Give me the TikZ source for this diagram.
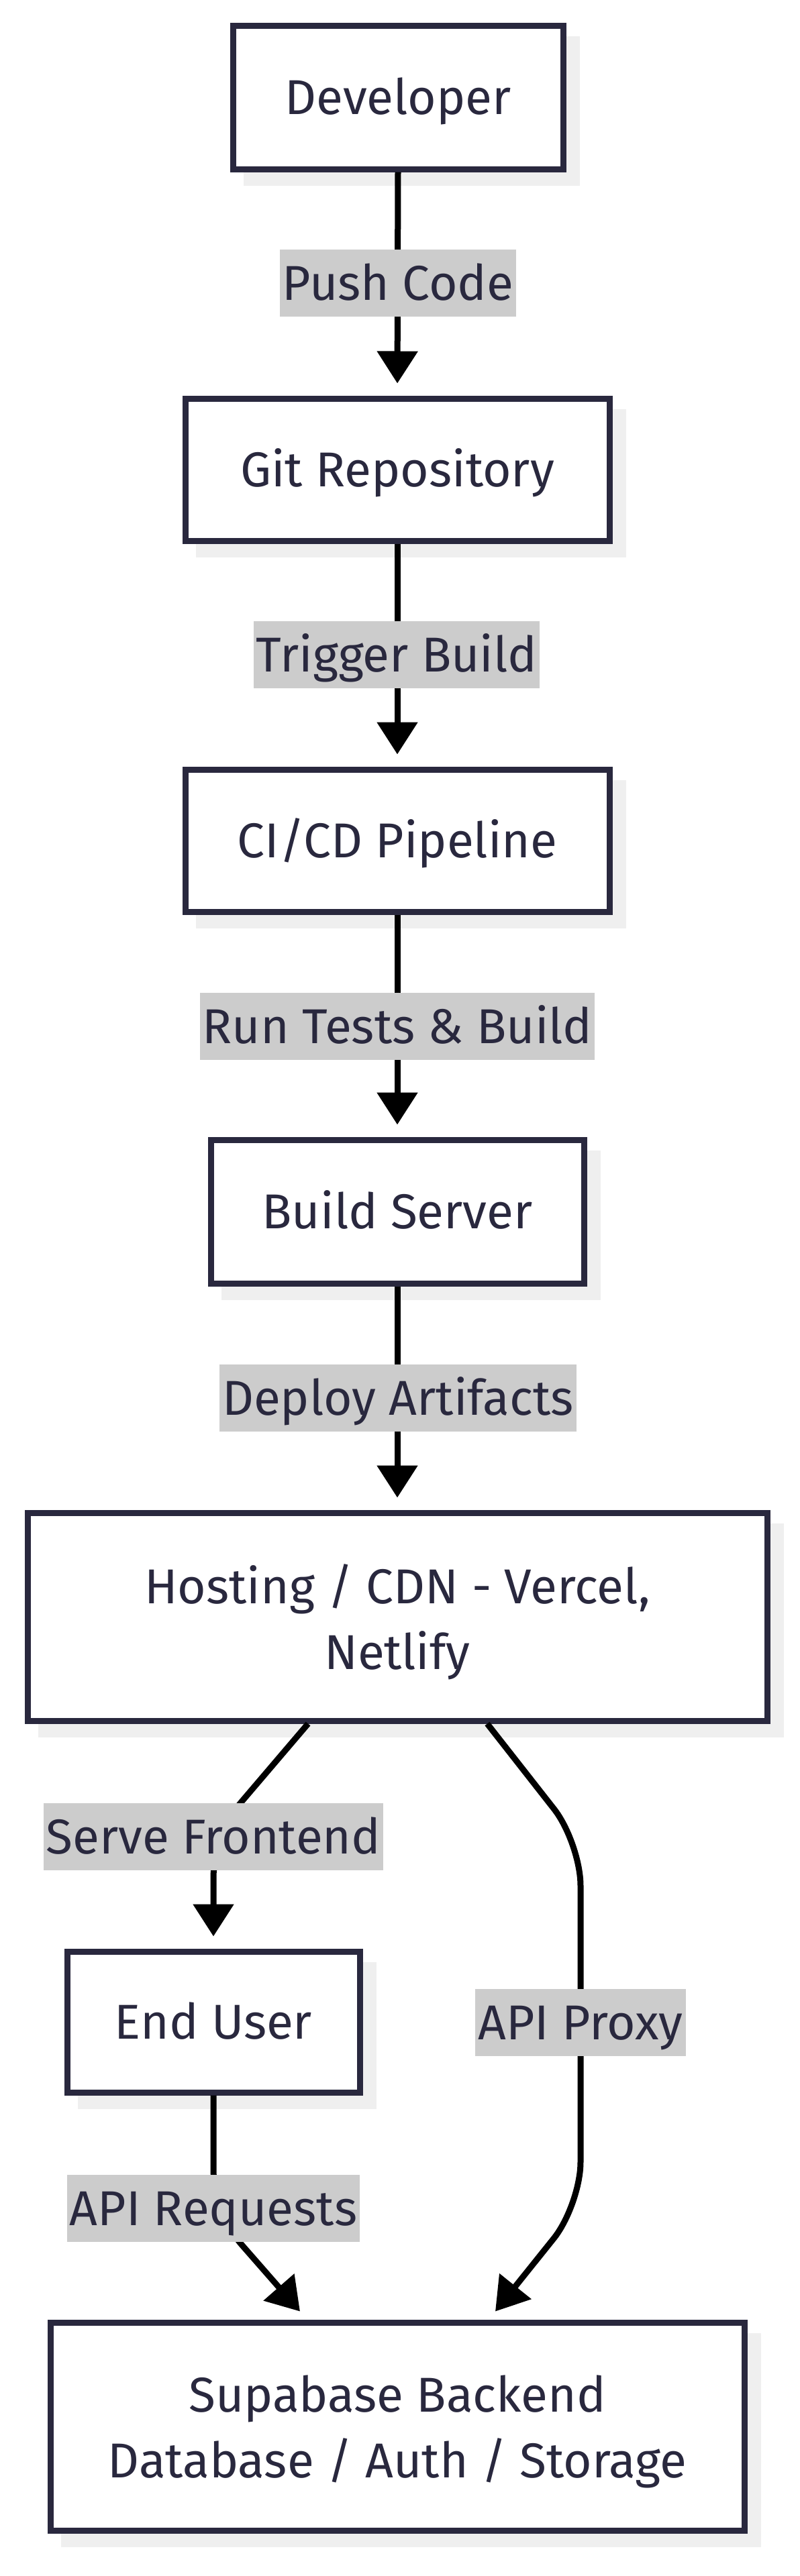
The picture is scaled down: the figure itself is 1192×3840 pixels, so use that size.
\documentclass[tikz,border=0pt]{standalone}
\usepackage{fontspec}
\setmainfont{Fira Sans}
\usetikzlibrary{arrows.meta,calc,backgrounds}
\definecolor{ink}{HTML}{29283E}
\definecolor{shadowc}{HTML}{EFEFEF}
\definecolor{lblbg}{HTML}{CCCCCC}
\begin{document}
\begin{tikzpicture}[x=0.5pt,y=-0.5pt,
  txt/.style={text=ink, font=\fontsize{36.5}{49}\selectfont, text depth=0pt},
  oneline/.style={text height=25.2pt},
  box/.style={txt, draw=ink, line width=4.5pt, fill=white, align=center, inner sep=0pt},
  lbl/.style={txt, oneline, fill=lblbg, inner xsep=2pt, inner ysep=0pt, minimum height=50pt},
  conn/.style={draw=black, line width=4.5pt, -{Triangle[width=29.5pt,length=24pt]}},
  corner/.style={rounded corners=32pt}
]
\useasboundingbox (0,0) rectangle (1192,3840);

% nodes
\node[box, oneline, minimum width=246pt, minimum height=107pt] (dev) at (593,145) {Developer};
\node[box, oneline, minimum width=316pt, minimum height=106pt] (git) at (592,700) {Git Repository};
\node[box, oneline, minimum width=316pt, minimum height=106pt] (cicd) at (592,1253) {CI/CD Pipeline};
\node[box, oneline, minimum width=278pt, minimum height=107pt] (build) at (592,1806) {Build Server};
\node[box, minimum width=551pt, minimum height=155pt] (host) at (592,2410) {Hosting / CDN - Vercel,\\Netlify};
\node[box, oneline, minimum width=218pt, minimum height=105pt] (user) at (318,3014) {End User};
\node[box, minimum width=517pt, minimum height=155pt] (supa) at (592,3617) {Supabase Backend\\Database / Auth / Storage};

% background and shadows
\begin{scope}[on background layer]
  \fill[white] (0,0) rectangle (1192,3840);
  \foreach \n in {dev,git,cicd,build,host,user,supa}
    \fill[shadowc] ($(\n.north west)+(20,20)$) rectangle ($(\n.south east)+(20,20)$);
\end{scope}

% straight connectors
\draw[conn, shorten >=9pt] (dev.south) -- (git.north);
\draw[conn, shorten >=9pt] (git.south) -- (cicd.north);
\draw[conn, shorten >=9pt] (cicd.south) -- (build.north);
\draw[conn, shorten >=9pt] (build.south) -- (host.north);

% curved connectors
\coordinate (sf) at (318,2735);
\coordinate (pa) at (865,2747);
\coordinate (pb) at (865,3287);
\coordinate (rq) at (318,3298);
\draw[conn, corner, shorten >=9pt] ($(host.south)+(-133,0)$) -- (sf) -- (user.north);
\draw[conn, corner] ($(host.south)+(134,0)$) -- (pa) -- (pb) -- ($(supa.north)+(146,-12)$);
\draw[conn, corner] (user.south) -- (rq) -- ($(supa.north)+(-145,-12)$);

% labels
\node[lbl] (l1) at (593,422) {Push Code};
\node[lbl] (l2) at (591,976) {Trigger Build};
\node[lbl] (l3) at (592,1530) {Run Tests \& Build};
\node[lbl] (l4) at (593,2084) {Deploy Artifacts};
\node[lbl] (l5) at (318,2738) {Serve Frontend};
\node[lbl] (l6) at (865,3015) {API Proxy};
\node[lbl] (l7) at (318,3292) {API Requests};
\end{tikzpicture}
\end{document}
